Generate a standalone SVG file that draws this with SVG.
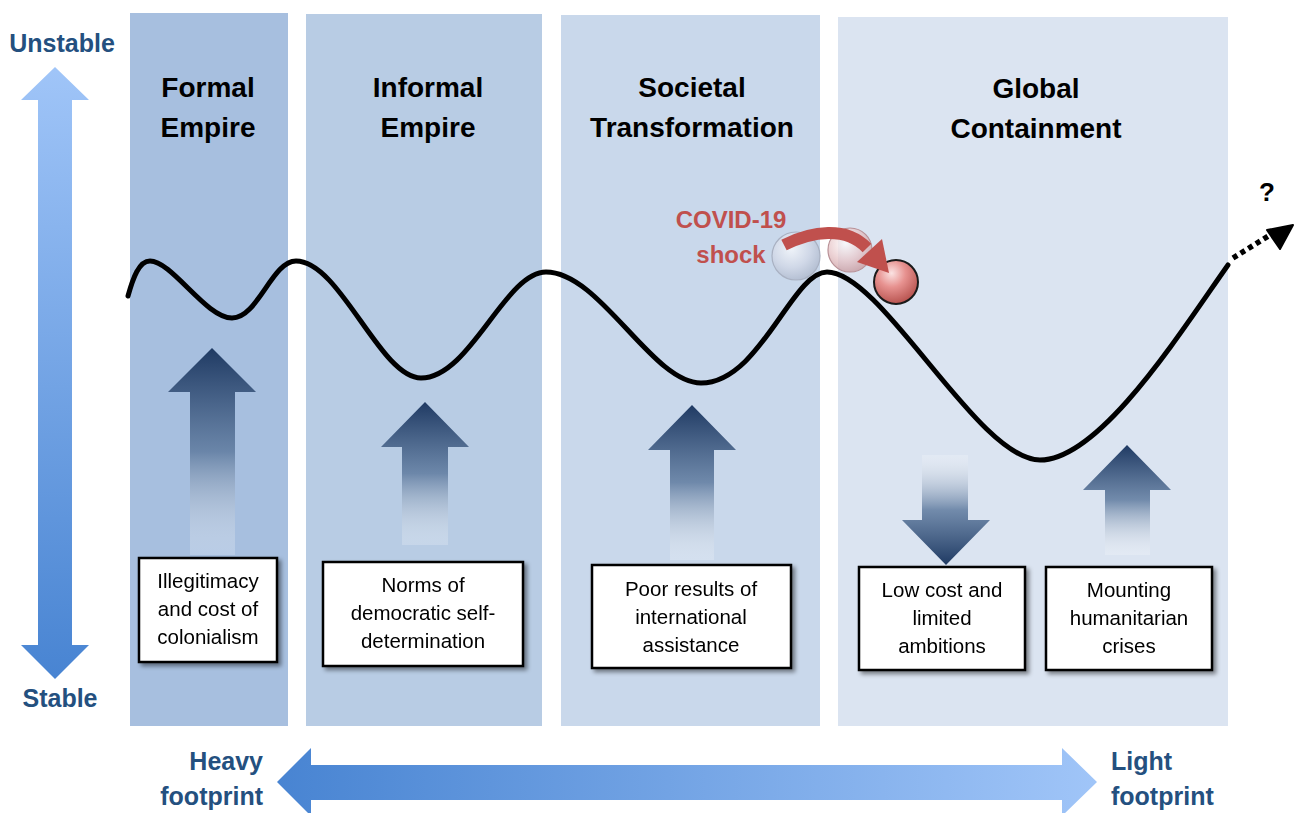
<svg xmlns="http://www.w3.org/2000/svg" width="1296" height="813" viewBox="0 0 1296 813">
<defs>
<style>
.hdr{font-family:"Liberation Sans",Arial,sans-serif;font-weight:bold;font-size:28px;fill:#000;text-anchor:middle}
.axis{font-family:"Liberation Sans",Arial,sans-serif;font-weight:bold;font-size:25px;fill:#24507f}
.box{fill:#fff;stroke:#000;stroke-width:2.5}
.bt{font-family:"Liberation Sans",Arial,sans-serif;font-size:20.5px;fill:#000;text-anchor:middle}
.covid{font-family:"Liberation Sans",Arial,sans-serif;font-weight:bold;font-size:24px;fill:#c0504d;text-anchor:middle}
</style>
<linearGradient id="gV" x1="0" y1="0" x2="0" y2="1">
<stop offset="0" stop-color="#a0c5f8"/><stop offset="1" stop-color="#4884d2"/>
</linearGradient>
<linearGradient id="gH" x1="0" y1="0" x2="1" y2="0">
<stop offset="0" stop-color="#4884d2"/><stop offset="1" stop-color="#a0c5f8"/>
</linearGradient>
<linearGradient id="gUp" x1="0" y1="0" x2="0" y2="1">
<stop offset="0" stop-color="#1f3a63"/><stop offset="0.5" stop-color="#5f7b9f" stop-opacity="0.85"/><stop offset="1" stop-color="#ffffff" stop-opacity="0.2"/>
</linearGradient>
<linearGradient id="gDown" x1="0" y1="1" x2="0" y2="0">
<stop offset="0" stop-color="#1f3a63"/><stop offset="0.5" stop-color="#5f7b9f" stop-opacity="0.85"/><stop offset="1" stop-color="#ffffff" stop-opacity="0.2"/>
</linearGradient>
<radialGradient id="b1" cx="0.4" cy="0.35" r="0.65">
<stop offset="0" stop-color="#ffffff"/><stop offset="0.6" stop-color="#d3d8e6"/><stop offset="1" stop-color="#aeb7ca"/>
</radialGradient>
<radialGradient id="b2" cx="0.4" cy="0.35" r="0.65">
<stop offset="0" stop-color="#ffffff"/><stop offset="0.6" stop-color="#e6c3c6"/><stop offset="1" stop-color="#c99a9e"/>
</radialGradient>
<radialGradient id="b3" cx="0.4" cy="0.3" r="0.7">
<stop offset="0" stop-color="#fbe3e3"/><stop offset="0.45" stop-color="#e79290"/><stop offset="1" stop-color="#b85450"/>
</radialGradient>
<filter id="sh" x="-10%" y="-10%" width="125%" height="130%">
<feDropShadow dx="3" dy="3" stdDeviation="2" flood-color="#000" flood-opacity="0.45"/>
</filter>
</defs>

<g id="columns">
<rect x="130" y="13" width="158" height="713" fill="#a7bfdf"/>
<rect x="306" y="14" width="236" height="712" fill="#b8cce4"/>
<rect x="561" y="15" width="259" height="711" fill="#c9d8eb"/>
<rect x="838" y="17" width="390" height="709" fill="#dbe4f1"/>
</g>

<g id="headers">
<text class="hdr" x="208" y="97">Formal</text>
<text class="hdr" x="208" y="137">Empire</text>
<text class="hdr" x="428" y="97">Informal</text>
<text class="hdr" x="428" y="137">Empire</text>
<text class="hdr" x="692" y="97">Societal</text>
<text class="hdr" x="692" y="137">Transformation</text>
<text class="hdr" x="1036" y="98">Global</text>
<text class="hdr" x="1036" y="138">Containment</text>
</g>

<g id="stability-axis">
<text class="axis" x="62" y="52" text-anchor="middle">Unstable</text>
<polygon points="55,67 89,100 72,100 72,645 89,645 55,679 21,645 38,645 38,100 21,100" fill="url(#gV)"/>
<text class="axis" x="60" y="707" text-anchor="middle">Stable</text>
</g>

<g id="footprint-axis">
<polygon points="277,782 311,748 311,765 1062,765 1062,748 1097,782 1062,816 1062,800 311,800 311,816" fill="url(#gH)"/>
<text class="axis" x="263" y="770" text-anchor="end">Heavy</text>
<text class="axis" x="263" y="805" text-anchor="end">footprint</text>
<text class="axis" x="1111" y="770">Light</text>
<text class="axis" x="1111" y="805">footprint</text>
</g>

<g id="connectors">
<path d="M128,296 C133,278 139,261 150,261 C172,261 206,318 232,318 C258,318 272,261 296,261 C340,261 380,378 421,378 C470,378 505,272 546,272 C600,272 652,383 701,383 C760,383 792,272 827,272 C882,272 978,460 1040,460 C1100,460 1180,333 1228,265" fill="none" stroke="#000" stroke-width="5" stroke-linecap="round"/>
<path d="M1233,258 L1270,235" fill="none" stroke="#000" stroke-width="5.5" stroke-dasharray="5 4"/>
<polygon points="1293,225 1280,249 1267,230" fill="#000" stroke="#000" stroke-width="2" stroke-linejoin="round"/>
<polygon points="212,348 256,392 235,392 235,555 190,555 190,392 168,392" fill="url(#gUp)"/>
<polygon points="425,402 469,447 448,447 448,545 402,545 402,447 381,447" fill="url(#gUp)"/>
<polygon points="692,405 736,450 714,450 714,560 670,560 670,450 648,450" fill="url(#gUp)"/>
<polygon points="946,565 990,520 968,520 968,455 922,455 922,520 902,520" fill="url(#gDown)"/>
<polygon points="1127,445 1171,490 1150,490 1150,555 1105,555 1105,490 1083,490" fill="url(#gUp)"/>
</g>

<g id="covid-shock">
<text class="covid" x="731" y="228">COVID-19</text>
<text class="covid" x="731" y="263">shock</text>
<circle cx="796" cy="256" r="24" fill="url(#b1)" fill-opacity="0.7" stroke="#a9b1c2" stroke-width="1.2"/>
<circle cx="850" cy="250" r="22" fill="url(#b2)" fill-opacity="0.75" stroke="#b89096" stroke-width="1.2"/>
<circle cx="896" cy="282" r="22" fill="url(#b3)" stroke="#1a1a1a" stroke-width="2"/>
<path d="M784,245 C812,231 846,226 867,248" fill="none" stroke="#c0504d" stroke-width="12"/>
<polygon points="889,273 857,262 882,239" fill="#c0504d"/>
</g>

<g id="box-illegitimacy" filter="url(#sh)">
<rect class="box" x="139" y="558" width="138" height="104"/>
<text class="bt" x="208" y="588">Illegitimacy</text>
<text class="bt" x="208" y="616">and cost of</text>
<text class="bt" x="208" y="644">colonialism</text>
</g>
<g id="box-norms" filter="url(#sh)">
<rect class="box" x="323" y="562" width="200" height="104"/>
<text class="bt" x="423" y="592">Norms of</text>
<text class="bt" x="423" y="620">democratic self-</text>
<text class="bt" x="423" y="648">determination</text>
</g>
<g id="box-poor-results" filter="url(#sh)">
<rect class="box" x="592" y="565" width="199" height="103"/>
<text class="bt" x="691" y="596">Poor results of</text>
<text class="bt" x="691" y="624">international</text>
<text class="bt" x="691" y="652">assistance</text>
</g>
<g id="box-low-cost" filter="url(#sh)">
<rect class="box" x="859" y="567" width="166" height="103"/>
<text class="bt" x="942" y="597">Low cost and</text>
<text class="bt" x="942" y="625">limited</text>
<text class="bt" x="942" y="653">ambitions</text>
</g>
<g id="box-humanitarian" filter="url(#sh)">
<rect class="box" x="1046" y="567" width="166" height="103"/>
<text class="bt" x="1129" y="597">Mounting</text>
<text class="bt" x="1129" y="625">humanitarian</text>
<text class="bt" x="1129" y="653">crises</text>
</g>

<g id="question">
<text x="1267" y="201" font-family="Liberation Sans, Arial, sans-serif" font-weight="bold" font-size="26" text-anchor="middle" fill="#000">?</text>
</g>
</svg>
